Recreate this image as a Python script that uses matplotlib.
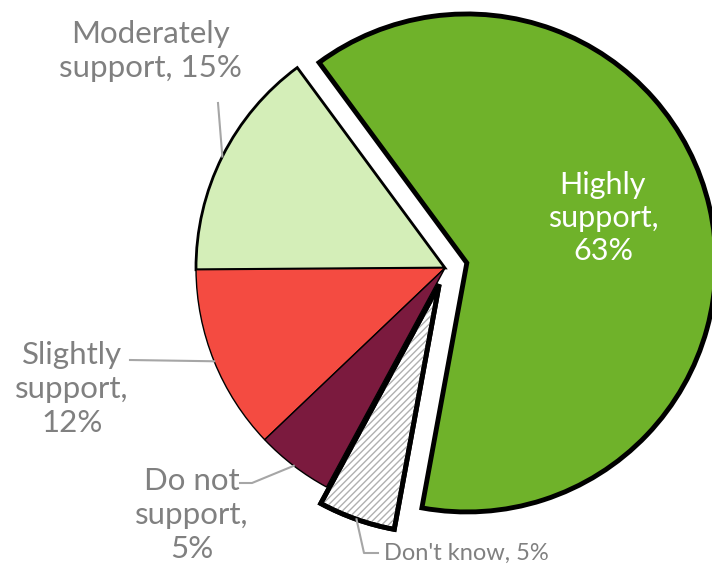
import numpy as np
import matplotlib.pyplot as plt
from matplotlib.patches import Wedge

labels = ["Moderately\nsupport, 15%", "Slightly\nsupport,\n12%", "Do not\nsupport,\n5%",
          "Don't know, 5%", "Highly\nsupport,\n63%"]
shares = [15, 12, 5, 5, 63]
colors = ["#D4EEB8", "#F44B41", "#7B1A3E", "white", "#6FB22A"]
explode = [0, 0, 0, 0.07, 0.09]
edge_widths = [2.0, 1.0, 1.0, 3.5, 3.5]

W, H = 712, 569
CX, CY, R = 445, 268, 249   # pie centre and radius in pixels

plt.rcParams["hatch.linewidth"] = 1.0


def px(x, y):
    # pixel position -> data coords (1 unit == pie radius)
    return (x - CX) / R, (CY - y) / R


fig = plt.figure(figsize=(W / 100, H / 100), dpi=100)
ax = fig.add_axes([0, 0, 1, 1])
wedges, _ = ax.pie(shares, colors=colors, explode=explode, startangle=126.4,
                   counterclock=True, radius=1.0,
                   wedgeprops=dict(edgecolor="black"))
for w, lw in zip(wedges, edge_widths):
    w.set_linewidth(lw)

# grey hatching for the "Don't know" slice, outline redrawn on top
dk = wedges[3]
ax.add_patch(Wedge(dk.center, dk.r, dk.theta1, dk.theta2, facecolor="none",
                   edgecolor="#B0B0B0", hatch="/////", lw=0, zorder=dk.get_zorder() + 0.1))
ax.add_patch(Wedge(dk.center, dk.r, dk.theta1, dk.theta2, facecolor="none",
                   edgecolor="black", lw=3.5, zorder=dk.get_zorder() + 0.2))

ax.set_xlim(-CX / R, (W - CX) / R)
ax.set_ylim(-(H - CY) / R, CY / R)
ax.set_aspect("equal")
ax.axis("off")

font = "Lato"
grey = "#808080"
line_grey = "#A6A6A6"


def edge_point(i):
    w = wedges[i]
    mid = np.deg2rad((w.theta1 + w.theta2) / 2)
    cx, cy = w.center
    return cx + w.r * np.cos(mid), cy + w.r * np.sin(mid)


# outside labels with leader lines
text_pos = [(150, 51), (72, 389), (192, 515), (466, 553)]
elbows = [[px(218, 103)], [px(130, 360)], [px(252, 483), px(240, 483)],
          [px(364, 553), px(378, 553)]]
sizes = [22.5, 22.5, 22.5, 17]
for i in range(4):
    x0, y0 = edge_point(i)
    pts = [(x0, y0)] + elbows[i]
    ax.plot([p[0] for p in pts], [p[1] for p in pts], color=line_grey, lw=1.5,
            solid_joinstyle="round")
    tx, ty = px(*text_pos[i])
    ax.text(tx, ty, labels[i], ha="center", va="center", color=grey,
            fontsize=sizes[i], family=font, linespacing=1.25)

# label inside the largest slice
hx, hy = px(603, 218)
ax.text(hx, hy, labels[4], ha="center", va="center", color="white",
        fontsize=22, family=font, linespacing=1.2)

fig.savefig("out.png", dpi=100)
